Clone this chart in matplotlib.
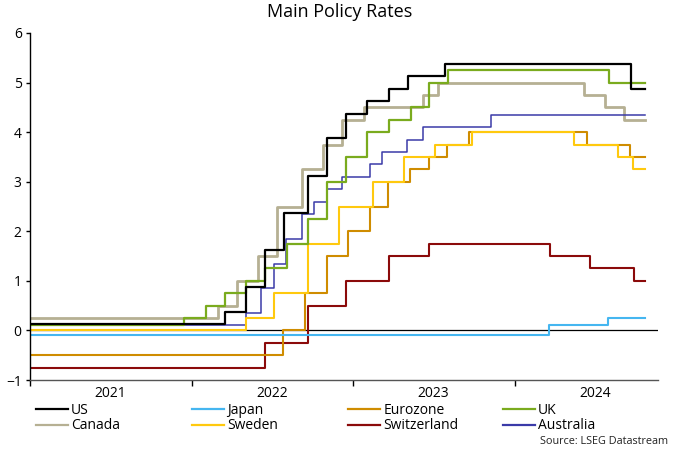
import matplotlib
matplotlib.use("Agg")
import matplotlib.pyplot as plt
import matplotlib.dates as mdates
from matplotlib.lines import Line2D
import pandas as pd

plt.rcParams['font.family'] = ['Open Sans', 'DejaVu Sans']

START = "2021-01-01"
END = "2024-10-22"

us_dates = [START, "2022-03-17", "2022-05-05", "2022-06-16", "2022-07-28", "2022-09-22", "2022-11-03",
            "2022-12-15", "2023-02-02", "2023-03-23", "2023-05-04", "2023-07-27", "2024-09-19"]
us_rates = [0.125, 0.375, 0.875, 1.625, 2.375, 3.125, 3.875, 4.375, 4.625, 4.875, 5.125, 5.375, 4.875]

japan_dates = [START, "2024-03-19", "2024-07-31"]
japan_rates = [-0.1, 0.1, 0.25]

euro_dates = [START, "2022-07-27", "2022-09-14", "2022-11-02", "2022-12-21", "2023-02-08", "2023-03-22",
              "2023-05-10", "2023-06-21", "2023-08-02", "2023-09-20", "2024-06-12", "2024-09-18"]
euro_rates = [-0.5, 0.0, 0.75, 1.5, 2.0, 2.5, 3.0, 3.25, 3.5, 3.75, 4.0, 3.75, 3.5]

uk_dates = [START, "2021-12-16", "2022-02-03", "2022-03-17", "2022-05-05", "2022-06-16", "2022-08-04",
            "2022-09-22", "2022-11-03", "2022-12-15", "2023-02-02", "2023-03-23", "2023-05-11",
            "2023-06-22", "2023-08-03", "2024-08-01"]
uk_rates = [0.1, 0.25, 0.5, 0.75, 1.0, 1.25, 1.75, 2.25, 3.0, 3.5, 4.0, 4.25, 4.5, 5.0, 5.25, 5.0]

canada_dates = [START, "2022-03-02", "2022-04-13", "2022-06-01", "2022-07-13", "2022-09-07", "2022-10-26",
                "2022-12-07", "2023-01-25", "2023-06-07", "2023-07-12", "2024-06-05", "2024-07-24",
                "2024-09-04"]
canada_rates = [0.25, 0.5, 1.0, 1.5, 2.5, 3.25, 3.75, 4.25, 4.5, 4.75, 5.0, 4.75, 4.5, 4.25]

sweden_dates = [START, "2022-05-04", "2022-07-06", "2022-09-21", "2022-11-30", "2023-02-15", "2023-04-26",
                "2023-07-05", "2023-09-27", "2024-05-15", "2024-08-21", "2024-09-25"]
sweden_rates = [0.0, 0.25, 0.75, 1.75, 2.5, 3.0, 3.5, 3.75, 4.0, 3.75, 3.5, 3.25]

swiss_dates = [START, "2022-06-16", "2022-09-22", "2022-12-15", "2023-03-23", "2023-06-22", "2024-03-21",
               "2024-06-20", "2024-09-26"]
swiss_rates = [-0.75, -0.25, 0.5, 1.0, 1.5, 1.75, 1.5, 1.25, 1.0]

aus_dates = [START, "2022-05-04", "2022-06-08", "2022-07-06", "2022-08-03", "2022-09-07", "2022-10-05",
             "2022-11-02", "2022-12-07", "2023-02-08", "2023-03-08", "2023-05-03", "2023-06-07",
             "2023-11-08"]
aus_rates = [0.1, 0.35, 0.85, 1.35, 1.85, 2.35, 2.6, 2.85, 3.1, 3.35, 3.6, 3.85, 4.1, 4.35]

series = [
    ("Canada", canada_dates, canada_rates, "#b6b093", 2.0),
    ("Australia", aus_dates, aus_rates, "#3a3aa8", 1.1),
    ("Switzerland", swiss_dates, swiss_rates, "#8b0a0a", 1.5),
    ("Eurozone", euro_dates, euro_rates, "#cf8c00", 1.5),
    ("Sweden", sweden_dates, sweden_rates, "#ffc90e", 1.5),
    ("Japan", japan_dates, japan_rates, "#45b6f0", 1.5),
    ("UK", uk_dates, uk_rates, "#7aab1e", 1.6),
    ("US", us_dates, us_rates, "#000000", 1.6),
]

years = ["2021", "2022", "2023", "2024"]

fig = plt.figure(figsize=(6.8, 4.53), dpi=100)
ax = fig.add_axes([30/680, 1-380/453, (658-30)/680, (380-33)/453])

handles = {}
for name, d, v, c, lw in series:
    x = list(pd.to_datetime(d)) + [pd.Timestamp(END)]
    y = list(v) + [v[-1]]
    ax.step(x, y, where="post", color=c, lw=lw, label=name)
    handles[name] = c

ax.axhline(0, color="black", lw=0.9, zorder=1)

ax.set_ylim(-1, 6)
ax.set_yticks(range(-1, 7))
ax.set_xlim(pd.Timestamp("2021-01-01"), pd.Timestamp("2024-11-20"))
ax.xaxis.set_major_locator(mdates.YearLocator())
ax.xaxis.set_major_formatter(plt.NullFormatter())
ax.set_xticks([pd.Timestamp(f"{y}-07-02") for y in years], minor=True)
ax.set_xticklabels(years, minor=True)
ax.tick_params(axis="x", which="minor", length=0, labelsize=10, pad=4)
ax.tick_params(axis="x", which="major", length=4, width=1, direction="out")
ax.tick_params(axis="y", length=3, width=1, labelsize=10, pad=3)

for s in ["top", "right"]:
    ax.spines[s].set_visible(False)
ax.spines["left"].set_linewidth(1)
ax.spines["bottom"].set_linewidth(1)
ax.spines["bottom"].set_color("#555555")

fig.text(340/680, 1-12/453, "Main Policy Rates", ha="center", va="center", fontsize=13)

cols = [["US", "Canada"], ["Japan", "Sweden"], ["Eurozone", "Switzerland"], ["UK", "Australia"]]
xs = [33, 189, 345, 500]
for names, xpos in zip(cols, xs):
    hs = [Line2D([0], [0], color=handles[n], lw=1.6) for n in names]
    fig.legend(hs, names, loc="upper left", bbox_to_anchor=(xpos/680, 1-400/453),
               frameon=False, fontsize=10, handlelength=2.35, handletextpad=0.2,
               labelspacing=0.05, borderpad=0.2, borderaxespad=0)

fig.text(668/680, 1-441/453, "Source: LSEG Datastream", ha="right", va="center", fontsize=7.8, color="#222222")

fig.savefig("out.png", dpi=100)
